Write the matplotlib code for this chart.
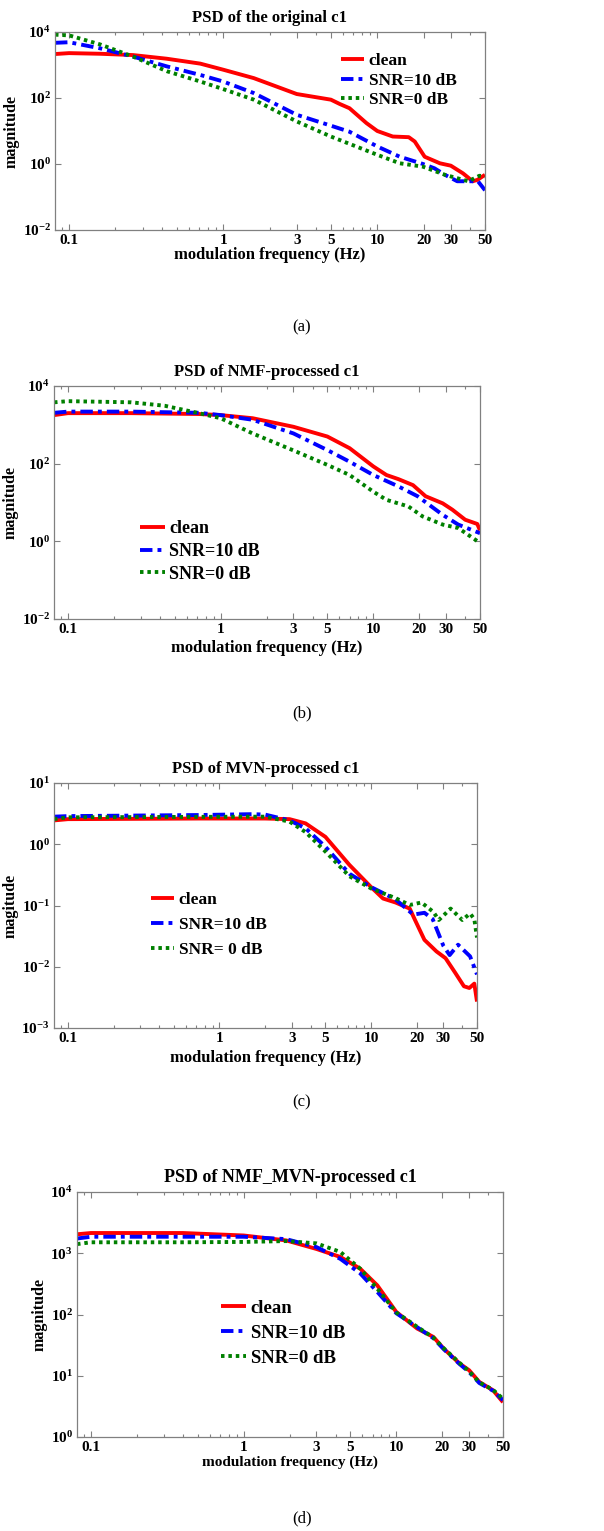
import numpy as np
import matplotlib as mpl
mpl.use('Agg')
import matplotlib.pyplot as plt
from matplotlib.ticker import FixedLocator, NullFormatter, LogLocator, FuncFormatter

plt.rcParams['font.family'] = ['Liberation Serif', 'DejaVu Serif']
plt.rcParams['font.weight'] = 'bold'
plt.rcParams['mathtext.fontset'] = 'custom'
plt.rcParams['mathtext.rm'] = 'Liberation Serif:bold'
plt.rcParams['mathtext.bf'] = 'Liberation Serif:bold'
plt.rcParams['mathtext.it'] = 'Liberation Serif:bold'

## ---- data ----
# (a) PSD of the original c1
a_clean_f = [0.081, 0.1, 0.159, 0.26, 0.43, 0.71, 1.0, 1.58, 3.0, 5.0, 5.7, 6.6, 8.5, 10.0,
             12.6, 16.0, 17.5, 20.3, 25.5, 30.0, 36.0, 41.6, 44.6, 50.0]
a_clean = [2150, 2290, 2190, 2000, 1550, 1100, 720, 400, 132, 89, 66, 49, 17.4, 10.0,
           6.8, 6.5, 4.8, 1.66, 1.05, 0.89, 0.52, 0.30, 0.33, 0.47]
a_snr10_f = [0.081, 0.1, 0.159, 0.26, 0.43, 0.71, 1.0, 1.58, 3.0, 5.0, 6.6, 10.0, 14.0,
             19.8, 23.5, 27.5, 33.0, 39.0, 45.0, 50.0]
a_snr10 = [4700, 4900, 3200, 1800, 910, 500, 316, 141, 31, 14.5, 9.5, 3.4, 1.66,
           1.0, 0.74, 0.47, 0.30, 0.30, 0.30, 0.16]
a_snr0_f = [0.081, 0.1, 0.159, 0.26, 0.43, 0.71, 1.0, 1.58, 3.0, 5.0, 10.0, 14.0,
            19.8, 27.5, 39.0, 46.0, 50.0]
a_snr0 = [8300, 7900, 4200, 1800, 650, 316, 186, 89, 19.5, 6.8, 1.9, 1.05,
          0.83, 0.47, 0.30, 0.44, 0.42]

# (b) PSD of NMF-processed c1
b_clean_f = [0.081, 0.1, 0.26, 0.72, 1.0, 1.62, 3.0, 5.0, 7.0, 10.0, 12.2, 14.6, 18.2,
             22.0, 28.5, 33.0, 40.0, 48.0, 50.0]
b_clean = [1780, 2000, 2000, 1900, 1780, 1480, 890, 500, 250, 85, 51, 40, 28,
           14.5, 9.5, 6.5, 3.6, 2.8, 1.9]
b_snr10_f = [0.081, 0.1, 0.26, 0.72, 1.0, 1.62, 3.0, 5.0, 7.0, 10.0, 14.6, 19.5,
             28.5, 36.0, 50.0]
b_snr10 = [2040, 2190, 2190, 2040, 1780, 1350, 600, 224, 112, 51, 26, 14.5,
           4.8, 2.7, 1.62]
b_snr0_f = [0.081, 0.1, 0.26, 0.43, 0.72, 1.0, 1.62, 3.0, 5.0, 7.0, 10.0, 12.2,
            17.0, 21.0, 28.5, 36.0, 50.0]
b_snr0 = [3800, 4070, 3800, 3100, 2000, 1480, 600, 219, 93, 51, 19, 11.7,
          7.9, 4.4, 2.7, 2.2, 0.91]

# (c) PSD of MVN-processed c1
c_clean_f = [0.081, 0.1, 0.74, 2.0, 2.9, 3.7, 5.0, 7.2, 10.0, 12.0, 14.5, 18.0, 19.5,
             22.5, 27.0, 31.0, 36.0, 41.0, 44.5, 48.0, 50.0]
c_clean = [2.45, 2.57, 2.63, 2.63, 2.57, 2.19, 1.32, 0.46, 0.20, 0.13, 0.112, 0.089, 0.058,
           0.0275, 0.0178, 0.0138, 0.0079, 0.0048, 0.0045, 0.0053, 0.0027]
c_snr10_f = [0.081, 0.1, 0.74, 1.66, 2.0, 2.9, 3.7, 5.0, 7.2, 10.0, 14.5, 19.0,
             22.5, 25.5, 30.0, 33.0, 37.5, 45.0, 50.0]
c_snr10 = [2.82, 2.88, 3.0, 3.1, 3.05, 2.45, 1.82, 0.91, 0.33, 0.20, 0.126, 0.071,
           0.076, 0.060, 0.022, 0.0155, 0.0229, 0.0148, 0.0075]
c_snr0_f = [0.081, 0.1, 0.74, 2.0, 2.9, 3.7, 5.0, 7.2, 10.0, 14.5, 18.0, 21.5,
            25.7, 28.0, 33.5, 40.0, 45.0, 48.0, 50.0]
c_snr0 = [2.57, 2.75, 2.8, 2.82, 2.34, 1.58, 0.76, 0.30, 0.19, 0.132, 0.102, 0.112,
          0.079, 0.058, 0.089, 0.058, 0.074, 0.06, 0.03]

# (d) PSD of NMF_MVN-processed c1
d_clean_f = [0.081, 0.1, 0.4, 1.0, 1.9, 3.0, 4.3, 5.8, 7.5, 10.0, 13.7, 17.5, 20.5,
             26.0, 30.0, 35.0, 43.0, 50.0]
d_clean = [2040, 2140, 2140, 1950, 1620, 1175, 870, 560, 300, 110, 59, 43, 27.5,
           15.8, 12.3, 7.9, 5.8, 3.7]
d_snr10_f = [0.081, 0.1, 0.4, 1.0, 1.9, 3.0, 4.3, 5.8, 7.5, 10.0, 13.7, 17.5, 20.5,
             26.0, 30.0, 35.0, 43.0, 50.0]
d_snr10 = [1740, 1860, 1860, 1860, 1700, 1260, 810, 470, 235, 105, 62, 41, 27,
           15.5, 11.5, 7.6, 5.7, 4.0]
d_snr0_f = [0.081, 0.1, 0.4, 1.0, 1.9, 3.0, 4.3, 5.8, 7.5, 10.0, 13.7, 17.5, 20.5,
            26.0, 30.0, 35.0, 43.0, 50.0]
d_snr0 = [1410, 1510, 1510, 1530, 1580, 1450, 1050, 560, 265, 108, 63, 42, 28,
          16.2, 11.8, 7.8, 5.9, 4.2]

titles = ['PSD of the original c1', 'PSD of NMF-processed c1',
          'PSD of MVN-processed c1', 'PSD of NMF_MVN-processed c1']
ylabels = ['magnitude', 'magnitude', 'magitude', 'magnitude']
legend_labels = [['clean', 'SNR=10 dB', 'SNR=0 dB'],
                 ['clean', 'SNR=10 dB', 'SNR=0 dB'],
                 ['clean', 'SNR=10 dB', 'SNR= 0 dB'],
                 ['clean', 'SNR=10 dB', 'SNR=0 dB']]
captions = ['(a)', '(b)', '(c)', '(d)']
ylims = [(1e-2, 1e4), (1e-2, 1e4), (1e-3, 1e1), (1e0, 1e4)]
yticks = [[1e-2, 1e0, 1e2, 1e4], [1e-2, 1e0, 1e2, 1e4],
          [1e-3, 1e-2, 1e-1, 1e0, 1e1], [1e0, 1e1, 1e2, 1e3, 1e4]]
xticks = [0.1, 1, 3, 5, 10, 20, 30, 50]
xticklabels = ['0.1', '1', '3', '5', '10', '20', '30', '50']

series = [
    ((a_clean_f, a_clean), (a_snr10_f, a_snr10), (a_snr0_f, a_snr0)),
    ((b_clean_f, b_clean), (b_snr10_f, b_snr10), (b_snr0_f, b_snr0)),
    ((c_clean_f, c_clean), (c_snr10_f, c_snr10), (c_snr0_f, c_snr0)),
    ((d_clean_f, d_clean), (d_snr10_f, d_snr10), (d_snr0_f, d_snr0)),
]

## ---- layout in pixels (figure is 604 x 1531) ----
W, H = 604.0, 1531.0
# left, right, top, bottom of each axes box
boxes = [(55, 485, 32, 230), (54, 480, 386, 619), (54, 477, 783, 1028), (77, 503, 1192, 1437)]
legend_pos = [(334, 46), (133, 513), (144, 885), (213, 1292)]
legend_spacing = [0.2, 0.32, 0.5, 0.42]
caption_y = [327, 713, 1102, 1518]
xlabel_y = [255, 648, 1058, 1462]
title_size = [12, 12, 12, 13]
xlabel_size = [12, 12, 12, 11]
legend_size = [12.5, 13, 12.5, 13.5]

fig = plt.figure(figsize=(W / 100, H / 100), dpi=100)

def sup_fmt(v, pos):
    return r'$\mathbf{10^{%d}}$' % int(round(np.log10(v)))

for i in range(4):
    l, r, t, b = boxes[i]
    ax = fig.add_axes([l / W, 1 - b / H, (r - l) / W, (b - t) / H])
    (f0, y0), (f1, y1), (f2, y2) = series[i]
    lab = legend_labels[i]
    ax.plot(f0, y0, color='#ff0000', lw=2.8, solid_capstyle='butt', label=lab[0])
    ax.plot(f1, y1, color='#0000ff', lw=2.8, dashes=(3.2, 1.3, 1.0, 1.3),
            dash_capstyle='butt', label=lab[1])
    ax.plot(f2, y2, color='#008000', lw=2.8, dashes=(0.9, 1.0),
            dash_capstyle='butt', label=lab[2])
    ax.set_xscale('log')
    ax.set_yscale('log')
    ax.set_xlim(0.081, 50)
    ax.set_ylim(*ylims[i])

    ax.xaxis.set_major_locator(FixedLocator(xticks))
    ax.set_xticklabels(xticklabels)
    ax.xaxis.set_minor_locator(LogLocator(base=10, subs=np.arange(2, 10)))
    ax.xaxis.set_minor_formatter(NullFormatter())
    ax.yaxis.set_major_locator(FixedLocator(yticks[i]))
    ax.yaxis.set_major_formatter(FuncFormatter(sup_fmt))
    ax.yaxis.set_minor_locator(FixedLocator([]))

    ax.tick_params(which='both', direction='in', top=True, right=True,
                   color='#808080', width=0.8, labelsize=11, pad=3)
    ax.tick_params(which='major', length=4)
    ax.tick_params(which='minor', length=2.5)
    for lbl in ax.get_xticklabels() + ax.get_yticklabels():
        lbl.set_fontweight('bold')
    for sp in ax.spines.values():
        sp.set_color('#808080')
        sp.set_linewidth(0.9)

    ax.set_title(titles[i], fontsize=title_size[i], fontweight='bold', pad=7)
    ax.set_ylabel(ylabels[i], fontsize=11.5, fontweight='bold', labelpad=2)
    fig.text((l + r) / 2 / W, 1 - xlabel_y[i] / H, 'modulation frequency (Hz)',
             ha='center', va='center', fontsize=xlabel_size[i], fontweight='bold')

    lx, ly = legend_pos[i]
    ax.legend(loc='upper left', bbox_to_anchor=(lx / W, 1 - ly / H),
              bbox_transform=fig.transFigure, frameon=False,
              prop={'weight': 'bold', 'size': legend_size[i]}, handlelength=1.35,
              handletextpad=0.25, labelspacing=legend_spacing[i], borderaxespad=0)

    fig.text(0.5, 1 - caption_y[i] / H, captions[i], ha='center', va='center',
             fontsize=12, fontweight='normal')

fig.savefig('out.png', dpi=100)
